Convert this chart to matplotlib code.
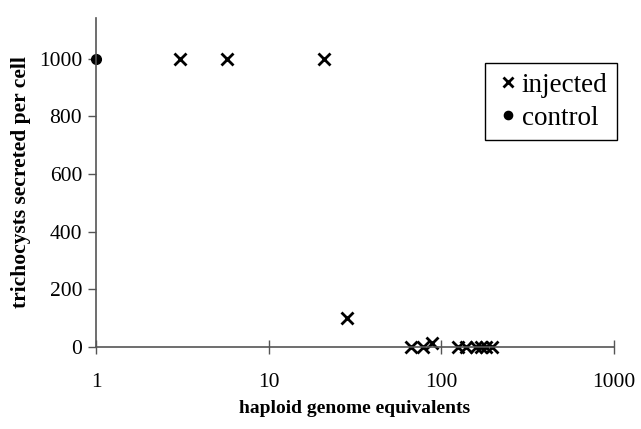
import matplotlib
matplotlib.use('Agg')
import matplotlib.pyplot as plt

# values
inj_x = [3.07, 5.7, 21.0, 28.5, 66.7, 78.0, 88.0, 125, 139, 159, 170, 181, 196]
inj_y = [1000, 1000, 1000, 100, 0, 0, 12, 0, 0, 0, 0, 0, 0]
ctrl_x = [1]
ctrl_y = [1000]

xticks = [1, 10, 100, 1000]
yticks = [0, 200, 400, 600, 800, 1000]

plt.rcParams['font.family'] = 'Liberation Serif'

fig = plt.figure(figsize=(6.41, 4.29), dpi=100)
ax = fig.add_axes([0.1498, 0.1918, 0.8080, 0.7662])

ax.plot(inj_x, inj_y, linestyle='none', marker='x', markersize=8,
        markeredgewidth=2.0, color='black', label='injected', clip_on=False)
ax.plot(ctrl_x, ctrl_y, linestyle='none', marker='o', markersize=7,
        color='black', label='control', clip_on=False)

ax.set_xscale('log')
ax.set_xlim(1, 1000)
ax.set_ylim(0, 1142)
ax.set_xticks(xticks)
ax.set_xticklabels([str(t) for t in xticks])
ax.minorticks_off()
ax.set_yticks(yticks)

for s in ['top', 'right']:
    ax.spines[s].set_visible(False)
for s in ['left', 'bottom']:
    ax.spines[s].set_color('#555555')
    ax.spines[s].set_linewidth(1.2)

ax.tick_params(axis='x', direction='inout', length=10, width=1, color='#555555',
               labelsize=15.5, pad=14)
ax.tick_params(axis='y', direction='out', length=6, width=1, color='#555555',
               labelsize=15.5, pad=4)

ax.set_xlabel('haploid genome equivalents', fontsize=14, fontweight='bold', labelpad=6)
ax.set_ylabel('trichocysts secreted per cell', fontsize=15.5, fontweight='bold', labelpad=6)

leg = ax.legend(loc='upper right', bbox_to_anchor=(1.006, 0.863), borderaxespad=0,
                fontsize=19.5, markerscale=0.85, handletextpad=0.0, handlelength=1.0,
                borderpad=0.35, labelspacing=0.3, fancybox=False, framealpha=1,
                edgecolor='black')
leg.get_frame().set_linewidth(1.0)

fig.savefig('out.png', dpi=100)
